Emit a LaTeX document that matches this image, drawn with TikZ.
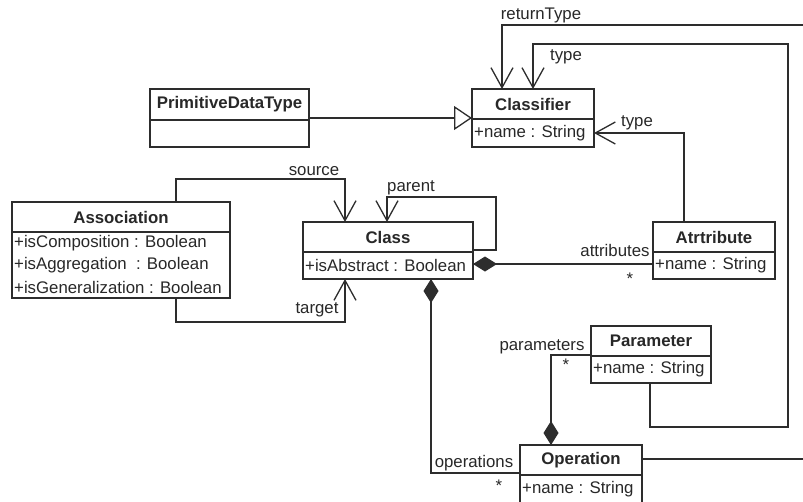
\documentclass[tikz,border=0pt]{standalone}
\usepackage{fontspec}
\setmainfont{Liberation Sans}
\usetikzlibrary{arrows.meta}
\definecolor{linecol}{RGB}{45,45,45}
\definecolor{textcol}{RGB}{40,40,40}
\begin{document}
\begin{tikzpicture}[x=1pt,y=-1pt,
  frame/.style={draw=linecol, line width=1.3pt},
  box/.style={frame, fill=white, rectangle, inner sep=0pt, outer sep=0pt},
  title/.style={font=\fontsize{16.8}{20}\selectfont\bfseries, text=textcol, inner sep=0pt},
  attr/.style={font=\fontsize{16.8}{20}\selectfont, text=textcol, inner sep=0pt, anchor=west},
  lbl/.style={font=\fontsize{16.8}{20}\selectfont, text=textcol, inner sep=0pt},
  conn/.style={draw=linecol, line width=1.3pt},
  nav/.style={conn, -{Straight Barb[length=20pt,width=22pt]}},
  comp/.style={conn, {Diamond[length=24pt,width=15pt]}-},
  gen/.style={conn, -{Triangle[open,length=18pt,width=24pt,fill=white]}}]

\useasboundingbox (0,0) rectangle (803,501);
\fill[white] (0,0) rectangle (803,501);

% ---------- classes ----------
% Classifier
\node[box, minimum width=122pt, minimum height=58pt, anchor=north west] (clsf) at (472,89) {};
\draw[frame] (clsf.west |- 0,119) -- (clsf.east |- 0,119);
\node[title] (clsf-t) at (533,104) {Classifier};
\node[attr] (clsf-a) at (474,133) {+name : String};

% PrimitiveDataType
\node[box, minimum width=159pt, minimum height=58pt, anchor=north west] (prim) at (150,89) {};
\draw[frame] (prim.west |- 0,120) -- (prim.east |- 0,120);
\node[title] (prim-t) at (229.5,104.5) {PrimitiveDataType};

% Association
\node[box, minimum width=218pt, minimum height=96pt, anchor=north west] (assoc) at (12,202) {};
\draw[frame] (assoc.west |- 0,232) -- (assoc.east |- 0,232);
\node[title] (assoc-t) at (121,217) {Association};
\node[attr] (assoc-a1) at (14,243) {+isComposition : Boolean};
\node[attr] (assoc-a2) at (14,265) {+isAggregation\ \ : Boolean};
\node[attr] (assoc-a3) at (14,287) {+isGeneralization : Boolean};

% Class
\node[box, minimum width=170pt, minimum height=57pt, anchor=north west] (cls) at (303,222) {};
\draw[frame] (cls.west |- 0,252) -- (cls.east |- 0,252);
\node[title] (cls-t) at (388,237) {Class};
\node[attr] (cls-a) at (305,265.5) {+isAbstract : Boolean};

% Atrtribute
\node[box, minimum width=122pt, minimum height=57pt, anchor=north west] (attrb) at (653,222) {};
\draw[frame] (attrb.west |- 0,252) -- (attrb.east |- 0,252);
\node[title] (attrb-t) at (714,237) {Atrtribute};
\node[attr] (attrb-a) at (655,265.5) {+name : String};

% Parameter
\node[box, minimum width=120pt, minimum height=57pt, anchor=north west] (param) at (591,326) {};
\draw[frame] (param.west |- 0,356) -- (param.east |- 0,356);
\node[title] (param-t) at (651,341) {Parameter};
\node[attr] (param-a) at (593,369.5) {+name : String};

% Operation (runs past the lower edge)
\node[box, minimum width=122pt, minimum height=58pt, anchor=north west] (oper) at (520,445) {};
\draw[frame] (oper.west |- 0,475) -- (oper.east |- 0,475);
\node[title] (oper-t) at (581,460) {Operation};
\node[attr] (oper-a) at (522,489) {+name : String};

% ---------- connectors ----------
\draw[gen] (prim.east |- 0,118) -- (clsf.west |- 0,118);

\draw[nav] (oper.east |- 0,459) -- (806,459) -- (806,25) -- (502,25) -- (clsf.north -| 502,0);
\draw[nav] (param.south -| 650,0) -- (650,427) -- (788,427) -- (788,44) -- (533,44) -- (clsf.north -| 533,0);
\draw[nav] (attrb.north -| 684,0) -- (684,133) -- (clsf.east |- 0,133);

\draw[nav] (assoc.north -| 176,0) -- (176,179) -- (345,179) -- (cls.north -| 345,0);
\draw[nav] (assoc.south -| 176,0) -- (176,322) -- (345,322) -- (cls.south -| 345,0);
\draw[nav] (cls.east |- 0,250) -- (496,250) -- (496,197) -- (387,197) -- (cls.north -| 387,0);

\draw[comp] (cls.east |- 0,264) -- (attrb.west |- 0,264);
\draw[comp] (cls.south -| 431,0) -- (431,473) -- (oper.west |- 0,473);
\draw[comp] (oper.north -| 551,0) -- (551,355) -- (param.west |- 0,355);

% ---------- role names ----------
\node[lbl] (l-ret) at (541,15) {returnType};
\node[lbl] (l-type1) at (566,57) {type};
\node[lbl] (l-type2) at (637,123) {type};
\node[lbl] (l-src) at (314,171) {source};
\node[lbl] (l-par) at (411,188) {parent};
\node[lbl] (l-tgt) at (317,310) {target};
\node[lbl] (l-attrs) at (615,250) {attributes};
\node[lbl] (l-attrs-m) at (630,279) {*};
\node[lbl] (l-params) at (542,347) {parameters};
\node[lbl] (l-params-m) at (566,365) {*};
\node[lbl] (l-ops) at (474,463) {operations};
\node[lbl] (l-ops-m) at (499,486) {*};
\end{tikzpicture}
\end{document}
